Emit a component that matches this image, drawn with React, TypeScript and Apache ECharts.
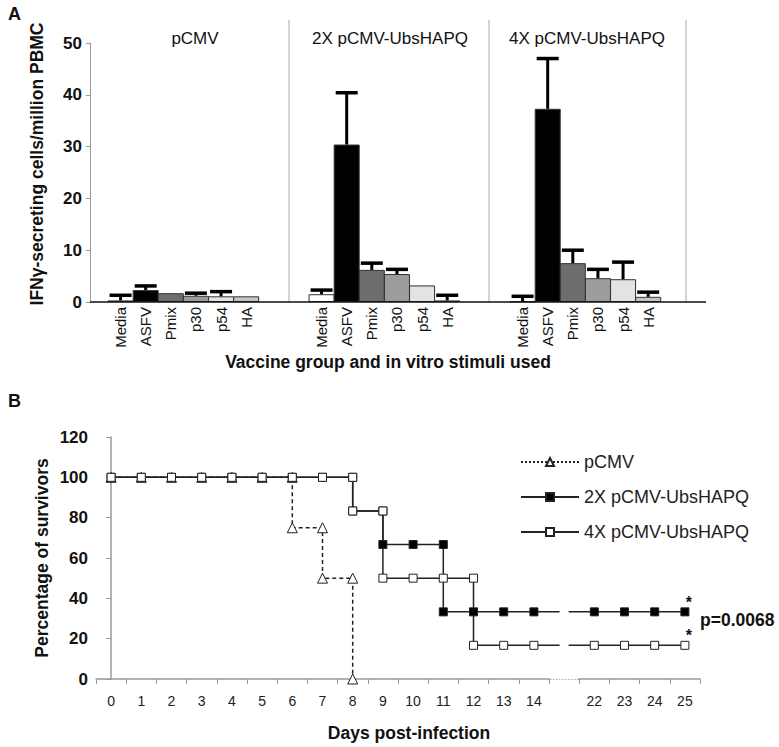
import React, { useEffect, useRef } from 'react';
import * as echarts from 'echarts';

// ---------- Panel A data ----------
const stimuli = ['Media', 'ASFV', 'Pmix', 'p30', 'p54', 'HA'];
const groupNames = ['pCMV', '2X pCMV-UbsHAPQ', '4X pCMV-UbsHAPQ'];
const pcmvMean = [0.3, 2.3, 1.7, 1.2, 1.1, 1.1];
const pcmvSE = [1.0, 0.8, 0, 0.5, 0.9, 0];
const x2Mean = [1.5, 30.4, 6.2, 5.4, 3.2, 0.3];
const x2SE = [0.8, 10.0, 1.3, 0.9, 0, 1.0];
const x4Mean = [0.1, 37.3, 7.5, 4.6, 4.4, 1.0];
const x4SE = [1.0, 9.7, 2.5, 1.7, 3.3, 0.9];
const stimulusColors = ['#ffffff', '#000000', '#6d6d6d', '#9c9c9c', '#e3e3e3', '#c4c4c4'];
const yTicksA = { min: 0, max: 50, interval: 10 };

// ---------- Panel B data ----------
const dayLabels = ['0', '1', '2', '3', '4', '5', '6', '7', '8', '9', '10', '11', '12', '13', '14', '', '22', '23', '24', '25'];
const pcmvSurvival: [number, number][] = [
  [0, 100], [1, 100], [2, 100], [3, 100], [4, 100], [5, 100], [6, 100], [6, 75], [7, 75], [7, 50], [8, 50], [8, 0],
];
const x2Survival: [number, number][] = [
  [0, 100], [1, 100], [2, 100], [3, 100], [4, 100], [5, 100], [6, 100], [7, 100], [8, 100], [8, 83.3], [9, 83.3],
  [9, 66.7], [10, 66.7], [11, 66.7], [11, 33.3], [12, 33.3], [13, 33.3], [14, 33.3], [22, 33.3], [23, 33.3], [24, 33.3], [25, 33.3],
];
const x4Survival: [number, number][] = [
  [0, 100], [1, 100], [2, 100], [3, 100], [4, 100], [5, 100], [6, 100], [7, 100], [8, 100], [8, 83.3], [9, 83.3],
  [9, 50], [10, 50], [11, 50], [12, 50], [12, 16.7], [13, 16.7], [14, 16.7], [22, 16.7], [23, 16.7], [24, 16.7], [25, 16.7],
];
const survivalNames = ['pCMV', '2X pCMV-UbsHAPQ', '4X pCMV-UbsHAPQ'];
const pValueText = 'p=0.0068';

const FONT = "'Liberation Sans', Arial, sans-serif";

function buildPanelA() {
  const cats: string[] = [];
  const bars: any[] = [];
  const errs: number[][] = [];
  const means = [pcmvMean, x2Mean, x4Mean];
  const ses = [pcmvSE, x2SE, x4SE];
  means.forEach((m, g) => {
    stimuli.forEach((s, i) => {
      const idx = cats.length;
      cats.push(s);
      bars.push({ value: m[i], itemStyle: { color: stimulusColors[i] } });
      if (ses[g][i] > 0) errs.push([idx, m[i], m[i] + ses[g][i]]);
    });
    cats.push('');
    bars.push('-');
    cats.push('');
    bars.push('-');
  });
  return { cats, bars, errs };
}

function buildSurvival(points: [number, number][], star: boolean) {
  const out: any[] = [];
  points.forEach(([d, v], i) => {
    const slot = dayLabels.indexOf(String(d));
    if (i > 0) {
      const [pd, pv] = points[i - 1];
      const prevSlot = dayLabels.indexOf(String(pd));
      if (slot - prevSlot > 1) {
        out.push({ value: [prevSlot + 0.85, pv], symbol: 'none' });
        out.push([prevSlot + 1, '-']);
        out.push({ value: [slot - 0.85, v], symbol: 'none' });
      }
    }
    if (star && i === points.length - 1) {
      out.push({
        value: [slot, v],
        label: {
          show: true, formatter: '*', position: 'top', offset: [4, 8],
          fontSize: 16, fontWeight: 'bold', color: '#111', fontFamily: FONT,
        },
      });
    } else {
      out.push([slot, v]);
    }
  });
  return out;
}

export default function App() {
  const ref = useRef<HTMLDivElement>(null);
  useEffect(() => {
    document.body.style.margin = '0';
    if (!ref.current) return;
    const chart = echarts.init(ref.current, undefined, { renderer: 'svg' });
    const A = buildPanelA();

    const lineBase = {
      type: 'line',
      xAxisIndex: 2,
      yAxisIndex: 1,
      symbolSize: 8,
      z: 3,
    };

    const option: any = {
      animation: false,
      textStyle: { fontFamily: FONT },
      grid: [
        { left: 108, top: 43, width: 603, height: 259, containLabel: false },
        { left: 96, top: 437, width: 604, height: 242, containLabel: false },
      ],
      xAxis: [
        {
          type: 'category', gridIndex: 0, data: A.cats,
          axisLine: { show: false }, axisTick: { show: false },
          axisLabel: { interval: 0, rotate: 90, fontSize: 15, color: '#111', margin: 5, fontFamily: FONT },
          splitLine: { show: false },
        },
        {
          type: 'category', gridIndex: 1, data: dayLabels,
          axisLine: { lineStyle: { color: '#999', width: 1.5 } },
          axisTick: { show: true, length: 5, lineStyle: { color: '#999' } },
          axisLabel: { interval: 0, fontSize: 14, color: '#222', margin: 15, fontFamily: FONT },
          splitLine: { show: false },
        },
        {
          type: 'value', gridIndex: 1, min: -0.5, max: dayLabels.length - 0.5, show: false,
          splitLine: { show: false },
        },
      ],
      yAxis: [
        {
          type: 'value', gridIndex: 0, ...yTicksA, offset: 18,
          axisLine: { show: true, lineStyle: { color: '#999' } },
          axisTick: { show: true, length: 4, lineStyle: { color: '#999' } },
          axisLabel: { fontSize: 17, fontWeight: 'bold', color: '#111', margin: 8, fontFamily: FONT },
          splitLine: { show: false },
        },
        {
          type: 'value', gridIndex: 1, min: 0, max: 120, interval: 20,
          axisLine: { show: true, lineStyle: { color: '#999', width: 1.5 } },
          axisTick: { show: true, length: 5, lineStyle: { color: '#999' } },
          axisLabel: { fontSize: 17, fontWeight: 'bold', color: '#111', margin: 8, fontFamily: FONT },
          splitLine: { show: false },
        },
      ],
      legend: {
        data: [
          { name: survivalNames[0], lineStyle: { type: 'dotted' } },
          survivalNames[1],
          survivalNames[2],
        ],
        orient: 'vertical', left: 520, top: 453, itemWidth: 58, itemHeight: 10, itemGap: 17,
        padding: 0,
        textStyle: { fontSize: 18, color: '#222', fontFamily: FONT },
      },
      series: [
        {
          type: 'bar', xAxisIndex: 0, yAxisIndex: 0, data: A.bars, barWidth: 26,
          itemStyle: { borderColor: '#333', borderWidth: 1 },
          silent: true,
        },
        {
          type: 'custom', xAxisIndex: 0, yAxisIndex: 0, data: A.errs,
          encode: { x: 0, y: [1, 2] },
          z: 5,
          renderItem: (params: any, api: any) => {
            const x = api.value(0);
            const p0 = api.coord([x, api.value(1)]);
            const p1 = api.coord([x, api.value(2)]);
            return {
              type: 'group',
              children: [
                { type: 'line', shape: { x1: p0[0], y1: p0[1], x2: p1[0], y2: p1[1] }, style: { stroke: '#000', lineWidth: 3 } },
                { type: 'line', shape: { x1: p1[0] - 11, y1: p1[1], x2: p1[0] + 11, y2: p1[1] }, style: { stroke: '#000', lineWidth: 3.5 } },
              ],
            };
          },
        },
        {
          ...lineBase, name: survivalNames[0], data: buildSurvival(pcmvSurvival, false),
          symbol: 'triangle', symbolSize: 10,
          lineStyle: { color: '#222', width: 1.5, type: [4, 3] },
          itemStyle: { color: '#ffffff', borderColor: '#222', borderWidth: 1 },
        },
        {
          ...lineBase, name: survivalNames[1], data: buildSurvival(x2Survival, true),
          symbol: 'rect',
          lineStyle: { color: '#222', width: 1.5 },
          itemStyle: { color: '#000000', borderColor: '#222', borderWidth: 1 },
        },
        {
          ...lineBase, name: survivalNames[2], data: buildSurvival(x4Survival, true),
          symbol: 'rect',
          lineStyle: { color: '#222', width: 1.5 },
          itemStyle: { color: '#ffffff', borderColor: '#222', borderWidth: 1 },
        },
      ],
      graphic: [
        { type: 'text', left: 8, top: 5, style: { text: 'A', font: `bold 18px ${FONT}`, fill: '#111' } },
        { type: 'text', left: 8, top: 392, style: { text: 'B', font: `bold 18px ${FONT}`, fill: '#111' } },
        // panel separators
        ...[289, 489, 686].map((x) => ({
          type: 'line', shape: { x1: x, y1: 20, x2: x, y2: 302 }, style: { stroke: '#aaa', lineWidth: 1 }, z: -1,
        })),
        // panel A baseline
        { type: 'line', shape: { x1: 90, y1: 302, x2: 706, y2: 302 }, style: { stroke: '#111', lineWidth: 1.5 }, z: 10 },
        // group titles
        ...groupNames.map((g, i) => ({
          type: 'text', x: [195, 390, 587][i], y: 38,
          style: { text: g, font: `17px ${FONT}`, fill: '#111', align: 'center', verticalAlign: 'middle' },
        })),
        {
          type: 'text', x: 37, y: 164, rotation: Math.PI / 2,
          style: { text: 'IFNγ-secreting cells/million PBMC', font: `bold 17.5px ${FONT}`, fill: '#111', align: 'center', verticalAlign: 'middle' },
        },
        {
          type: 'text', x: 388, y: 362,
          style: { text: 'Vaccine group and in vitro stimuli used', font: `bold 17.5px ${FONT}`, fill: '#111', align: 'center', verticalAlign: 'middle' },
        },
        // panel B titles
        {
          type: 'text', x: 42, y: 558, rotation: Math.PI / 2,
          style: { text: 'Percentage of survivors', font: `bold 17.5px ${FONT}`, fill: '#111', align: 'center', verticalAlign: 'middle' },
        },
        {
          type: 'text', x: 409, y: 733,
          style: { text: 'Days post-infection', font: `bold 17.5px ${FONT}`, fill: '#111', align: 'center', verticalAlign: 'middle' },
        },
        // axis break
        { type: 'rect', shape: { x: 550, y: 677, width: 28, height: 4 }, style: { fill: '#fff' }, z: 20 },
        { type: 'line', shape: { x1: 550, y1: 679.5, x2: 578, y2: 679.5 }, style: { stroke: '#aaa', lineWidth: 1, lineDash: [1.5, 1.5] }, z: 21 },
        {
          type: 'text', x: 700, y: 620,
          style: { text: pValueText, font: `bold 17.5px ${FONT}`, fill: '#111', align: 'left', verticalAlign: 'middle' },
        },
      ],
    };
    chart.setOption(option);
    return () => chart.dispose();
  }, []);
  return <div ref={ref} style={{ width: 779, height: 747, position: 'absolute', left: 0, top: 0 }} />;
}
